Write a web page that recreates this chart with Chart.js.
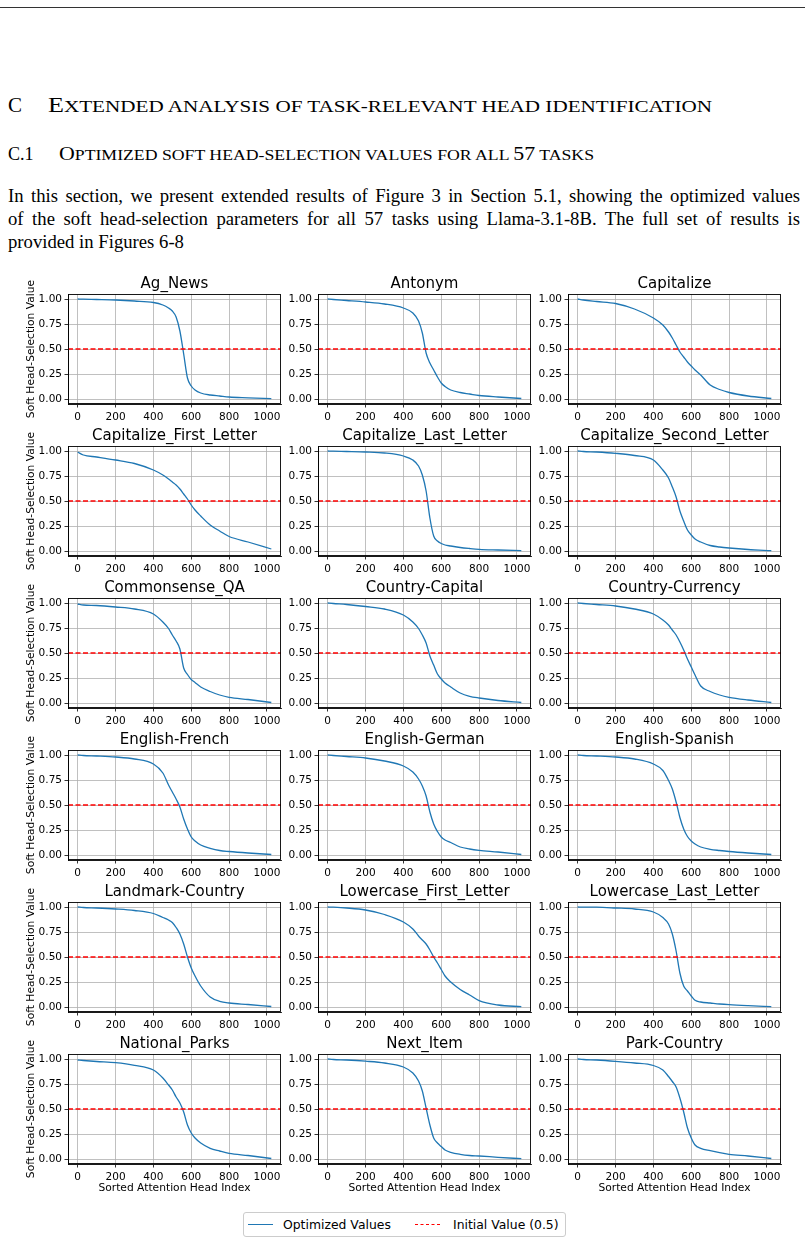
<!DOCTYPE html>
<html>
<head>
<meta charset="utf-8">
<script src="https://cdn.jsdelivr.net/npm/chart.js@4.4.0/dist/chart.umd.min.js"></script>
<style>
  body { margin:0; background:#fff; width:805px; height:1242px; position:relative; overflow:hidden; color:#000; }
  .rule { position:absolute; left:0; top:7px; width:805px; height:1px; background:#333; }
  .serif { position:absolute; font-family:"Liberation Serif", "Times New Roman", serif; white-space:nowrap; }
  .sec { font-size:21px; line-height:21px; transform-origin:left center; }
  .sec small { font-size:17px; }
  .sub { font-size:18px; line-height:18px; transform-origin:left center; }
  .sub small { font-size:14.6px; }
  .body-line { left:8px; width:792px; font-size:18.7px; line-height:23px; text-align:justify; text-align-last:justify; white-space:normal; }
  canvas { position:absolute; }
  .legend { position:absolute; left:243px; top:1212px; width:321px; height:23px; border:1px solid #ccc; border-radius:3px; background:#fff;
            font-family:"DejaVu Sans", sans-serif; font-size:12.4px; }
  .legend span { position:absolute; top:4px; white-space:nowrap; }
  .legend i { position:absolute; top:11px; height:0; width:25px; }
</style>
</head>
<body>
<div class="rule"></div>

<div class="serif sec" style="left:8px;top:95px">C</div>
<div class="serif sec" id="secTitle" style="left:48px;top:95px">E<small>XTENDED ANALYSIS OF TASK-RELEVANT HEAD IDENTIFICATION</small></div>

<div class="serif sub" style="left:8px;top:145px">C.1</div>
<div class="serif sub" id="subTitle" style="left:59px;top:145px">O<small>PTIMIZED SOFT HEAD-SELECTION VALUES FOR ALL </small>57<small> TASKS</small></div>

<div class="serif body-line" style="top:184px">In this section, we present extended results of Figure 3 in Section 5.1, showing the optimized values</div>
<div class="serif body-line" style="top:207px">of the soft head-selection parameters for all 57 tasks using Llama-3.1-8B. The full set of results is</div>
<div class="serif body-line" style="top:230px;text-align-last:left">provided in Figures 6-8</div>

<div id="grid"></div>

<div class="legend">
  <i style="left:4px;border-top:1.5px solid #1f77b4"></i>
  <span style="left:39px">Optimized Values</span>
  <i style="left:171px;border-top:1.5px dashed #ff0000"></i>
  <span style="left:209px">Initial Value (0.5)</span>
</div>

<script>
// ─────────────────────────────────────────────────────────────
// data: sorted head index samples + soft head-selection values
// ─────────────────────────────────────────────────────────────
const HEAD_IDX = [0, 30, 100, 200, 300, 400, 450, 480, 500, 520, 540, 560, 580, 600, 620, 650, 700, 750, 800, 900, 1023];
const X_TICKS  = [0, 200, 400, 600, 800, 1000];
const Y_TICKS  = [0, 0.25, 0.5, 0.75, 1];
const INITIAL_VALUE = 0.5;

const TASKS = [
  'Ag_News', 'Antonym', 'Capitalize',
  'Capitalize_First_Letter', 'Capitalize_Last_Letter', 'Capitalize_Second_Letter',
  'Commonsense_QA', 'Country-Capital', 'Country-Currency',
  'English-French', 'English-German', 'English-Spanish',
  'Landmark-Country', 'Lowercase_First_Letter', 'Lowercase_Last_Letter',
  'National_Parks', 'Next_Item', 'Park-Country'
];

const agNews        = [1.00, 0.998, 0.995, 0.99, 0.98, 0.965, 0.94, 0.91, 0.88, 0.82, 0.68, 0.45, 0.21, 0.13, 0.09, 0.06, 0.04, 0.03, 0.02, 0.012, 0.003];
const antonym       = [1.00, 0.995, 0.985, 0.97, 0.95, 0.91, 0.86, 0.78, 0.66, 0.46, 0.36, 0.29, 0.22, 0.16, 0.125, 0.09, 0.065, 0.05, 0.035, 0.02, 0.005];
const capitalize    = [1.00, 0.99, 0.975, 0.955, 0.90, 0.81, 0.74, 0.67, 0.61, 0.54, 0.47, 0.42, 0.37, 0.33, 0.29, 0.24, 0.14, 0.095, 0.065, 0.03, 0.005];
const capFirst      = [0.99, 0.96, 0.94, 0.91, 0.875, 0.81, 0.76, 0.72, 0.69, 0.66, 0.62, 0.57, 0.52, 0.46, 0.41, 0.35, 0.26, 0.20, 0.145, 0.09, 0.02];
const capLast       = [1.00, 0.998, 0.995, 0.99, 0.98, 0.95, 0.91, 0.85, 0.76, 0.60, 0.33, 0.15, 0.10, 0.075, 0.06, 0.05, 0.035, 0.025, 0.017, 0.01, 0.003];
const capSecond     = [1.00, 0.995, 0.99, 0.977, 0.955, 0.91, 0.81, 0.73, 0.64, 0.54, 0.40, 0.30, 0.21, 0.16, 0.12, 0.09, 0.055, 0.04, 0.03, 0.015, 0.003];
const commonsenseQA = [0.99, 0.98, 0.975, 0.96, 0.94, 0.89, 0.81, 0.745, 0.68, 0.62, 0.54, 0.35, 0.285, 0.235, 0.205, 0.16, 0.115, 0.08, 0.057, 0.035, 0.005];
const countryCap    = [1.00, 0.995, 0.985, 0.965, 0.94, 0.88, 0.81, 0.745, 0.68, 0.60, 0.47, 0.38, 0.29, 0.24, 0.20, 0.16, 0.10, 0.067, 0.05, 0.025, 0.005];
const countryCurr   = [1.00, 0.995, 0.985, 0.97, 0.94, 0.89, 0.83, 0.78, 0.73, 0.68, 0.61, 0.53, 0.44, 0.36, 0.28, 0.17, 0.115, 0.08, 0.057, 0.03, 0.005];
const engFrench     = [1.00, 0.995, 0.99, 0.98, 0.96, 0.91, 0.82, 0.70, 0.63, 0.56, 0.48, 0.36, 0.26, 0.18, 0.14, 0.10, 0.067, 0.045, 0.035, 0.02, 0.005];
const engGerman     = [1.00, 0.995, 0.985, 0.97, 0.94, 0.89, 0.83, 0.76, 0.69, 0.59, 0.43, 0.31, 0.235, 0.18, 0.15, 0.125, 0.08, 0.06, 0.047, 0.03, 0.005];
const engSpanish    = [1.00, 0.995, 0.99, 0.98, 0.96, 0.91, 0.845, 0.745, 0.66, 0.53, 0.375, 0.26, 0.185, 0.14, 0.11, 0.08, 0.057, 0.045, 0.035, 0.02, 0.005];
const landmarkCtry  = [1.00, 0.995, 0.99, 0.98, 0.965, 0.935, 0.895, 0.87, 0.845, 0.795, 0.73, 0.63, 0.50, 0.39, 0.31, 0.21, 0.10, 0.057, 0.04, 0.025, 0.005];
const lowerFirst    = [1.00, 0.998, 0.99, 0.97, 0.925, 0.85, 0.78, 0.71, 0.67, 0.63, 0.57, 0.50, 0.44, 0.375, 0.31, 0.25, 0.175, 0.12, 0.064, 0.02, 0.003];
const lowerLast     = [1.00, 0.999, 0.998, 0.99, 0.98, 0.95, 0.895, 0.83, 0.73, 0.56, 0.34, 0.21, 0.16, 0.11, 0.067, 0.05, 0.04, 0.03, 0.023, 0.013, 0.003];
const nationalParks = [0.99, 0.985, 0.975, 0.963, 0.937, 0.89, 0.81, 0.74, 0.69, 0.62, 0.56, 0.47, 0.34, 0.26, 0.21, 0.16, 0.107, 0.08, 0.057, 0.035, 0.005];
const nextItem      = [1.00, 0.995, 0.99, 0.978, 0.96, 0.92, 0.86, 0.78, 0.68, 0.51, 0.34, 0.21, 0.16, 0.125, 0.09, 0.067, 0.047, 0.035, 0.03, 0.017, 0.003];
const parkCountry   = [1.00, 0.995, 0.99, 0.977, 0.96, 0.935, 0.89, 0.825, 0.775, 0.72, 0.61, 0.47, 0.31, 0.21, 0.14, 0.107, 0.083, 0.063, 0.047, 0.03, 0.005];

const SERIES = [
  agNews, antonym, capitalize,
  capFirst, capLast, capSecond,
  commonsenseQA, countryCap, countryCurr,
  engFrench, engGerman, engSpanish,
  landmarkCtry, lowerFirst, lowerLast,
  nationalParks, nextItem, parkCountry
];

// ─────────────────────────────────────────────────────────────
// heading widths: stretch the small-caps lines to the printed width
// ─────────────────────────────────────────────────────────────
function fitWidth(id, target) {
  const el = document.getElementById(id);
  const w = el.getBoundingClientRect().width;
  el.style.transform = `scaleX(${target / w})`;
}
fitWidth('secTitle', 664);
fitWidth('subTitle', 535);

// ─────────────────────────────────────────────────────────────
// layout
// ─────────────────────────────────────────────────────────────
const X_MIN = -51.15, X_MAX = 1074.15;   // matplotlib 5% margins on 0..1023
const Y_MIN = -0.05,  Y_MAX = 1.05;
const COL_LEFT = [25, 275, 525];
const ROW_TOP0 = 275, ROW_STEP = 152;
const AXIS_W = 43, PLOT_W = 213, PLOT_H = 110, TITLE_H = 19, RIGHT_PAD = 16;
const FONT = '"DejaVu Sans", sans-serif';

// black frame on all four sides, like matplotlib spines
const frame = {
  id: 'frame',
  afterDatasetsDraw(chart) {
    const { ctx, chartArea: a } = chart;
    ctx.save();
    ctx.strokeStyle = '#000';
    ctx.lineWidth = 0.9;
    const l = Math.round(a.left) + 0.5, t = Math.round(a.top) + 0.5;
    const r = Math.round(a.right) - 0.5, b = Math.round(a.bottom) - 0.5;
    ctx.strokeRect(l, t, r - l, b - t);
    ctx.restore();
  }
};

function makeChart(i) {
  const row = Math.floor(i / 3), col = i % 3;
  const lastRow = row === 5;
  const xh = lastRow ? 33 : 20;

  const cv = document.createElement('canvas');
  cv.width  = AXIS_W + PLOT_W + RIGHT_PAD;
  cv.height = TITLE_H + PLOT_H + xh;
  cv.style.left = COL_LEFT[col] + 'px';
  cv.style.top  = (ROW_TOP0 + ROW_STEP * row) + 'px';
  document.getElementById('grid').appendChild(cv);

  const vals = SERIES[i];
  new Chart(cv, {
    type: 'line',
    data: {
      datasets: [
        { label: 'Initial Value (0.5)',
          data: [{ x: X_MIN, y: INITIAL_VALUE }, { x: X_MAX, y: INITIAL_VALUE }],
          borderColor: '#ff0000', borderWidth: 1.3, borderDash: [5, 2.5], pointRadius: 0 },
        { label: 'Optimized Values',
          data: HEAD_IDX.map((x, k) => ({ x, y: vals[k] })),
          borderColor: '#1f77b4', borderWidth: 1.3, pointRadius: 0, cubicInterpolationMode: 'monotone' }
      ]
    },
    options: {
      responsive: false, animation: false, events: [],
      layout: { padding: { top: 0, left: 0, bottom: 0, right: RIGHT_PAD } },
      plugins: {
        legend: { display: false }, tooltip: { enabled: false },
        title: { display: true, text: TASKS[i], color: '#000', fullSize: false,
                 font: { family: FONT, size: 15, weight: 'normal' }, padding: { top: 0, bottom: 1 } }
      },
      scales: {
        x: {
          type: 'linear', min: X_MIN, max: X_MAX,
          afterBuildTicks: s => { s.ticks = X_TICKS.map(v => ({ value: v })); },
          afterFit: s => { s.height = xh; },
          ticks: { color: '#000', font: { family: FONT, size: 10.5 }, padding: 3, maxRotation: 0, autoSkip: false,
                   callback: v => String(v) },
          grid: { color: '#b0b0b0', lineWidth: 0.8, tickColor: '#000', tickLength: 3.5, tickWidth: 0.8 },
          border: { color: '#000', width: 0.9 },
          title: { display: lastRow, text: 'Sorted Attention Head Index', color: '#000',
                   font: { family: FONT, size: 10.7 }, padding: { top: 0, bottom: 2 } }
        },
        y: {
          type: 'linear', min: Y_MIN, max: Y_MAX,
          afterBuildTicks: s => { s.ticks = Y_TICKS.map(v => ({ value: v })); },
          afterFit: s => { s.width = AXIS_W; },
          ticks: { color: '#000', font: { family: FONT, size: 10.5 }, padding: 2.5, autoSkip: false,
                   callback: v => v.toFixed(2) },
          grid: { color: '#b0b0b0', lineWidth: 0.8, tickColor: '#000', tickLength: 3.5, tickWidth: 0.8 },
          border: { color: '#000', width: 0.9 },
          title: { display: col === 0, text: 'Soft Head-Selection Value', color: '#000',
                   font: { family: FONT, size: 10.7 }, padding: { top: 0, bottom: 0 } }
        }
      }
    },
    plugins: [frame]
  });
}

TASKS.forEach((_, i) => makeChart(i));
</script>
</body>
</html>
